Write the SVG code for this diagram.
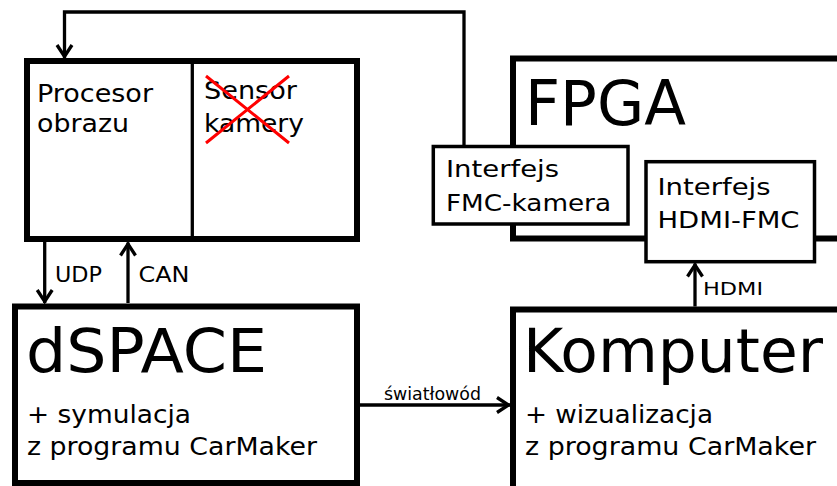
<svg xmlns="http://www.w3.org/2000/svg" width="837" height="486" viewBox="0 0 837 486">
<style>
.box{fill:#fff;stroke:#000;stroke-width:6}
.sub{fill:#fff;stroke:#000;stroke-width:3.5}
.t{font-family:"DejaVu Sans","Liberation Sans",sans-serif;fill:#000}
.c{fill:none;stroke:#000;stroke-width:3.3}
</style>
<defs>
<marker id="arr" viewBox="-16 -10 18 20" refX="0" refY="0" markerWidth="18" markerHeight="20" markerUnits="userSpaceOnUse" orient="auto" overflow="visible">
<path d="M-13,-7.5 L-1.5,0 L-13,7.5" fill="none" stroke="#000" stroke-width="3.3"/>
</marker>
</defs>
<rect width="837" height="486" fill="#fff"/>

<g id="fpga">
<rect class="box" x="513" y="58.5" width="340" height="180"/>
<text class="t" x="525" y="125" font-size="62" textLength="161" lengthAdjust="spacingAndGlyphs">FPGA</text>
</g>

<g id="connectors">
<path class="c" d="M464,146.5 V12 H64.5 V58" marker-end="url(#arr)"/>
<path class="c" d="M44.7,242 V303" marker-end="url(#arr)"/>
<path class="c" d="M128,303 V242.5" marker-end="url(#arr)"/>
<path class="c" d="M695,306.5 V263.5" marker-end="url(#arr)"/>
<path class="c" d="M360,405 H510" marker-end="url(#arr)"/>
<text class="t" x="55" y="281.7" font-size="20.5" textLength="47" lengthAdjust="spacingAndGlyphs">UDP</text>
<text class="t" x="138.5" y="281.7" font-size="20.5" textLength="51" lengthAdjust="spacingAndGlyphs">CAN</text>
<text class="t" x="703" y="295" font-size="18.5" textLength="60" lengthAdjust="spacingAndGlyphs">HDMI</text>
<text class="t" x="384" y="400" font-size="17.5" textLength="97" lengthAdjust="spacingAndGlyphs">światłowód</text>
</g>

<g id="procesor">
<rect class="box" x="27" y="61" width="330" height="178"/>
<line x1="192.3" y1="61" x2="192.3" y2="239" stroke="#000" stroke-width="3.3"/>
<text class="t" x="37" y="101.7" font-size="25" textLength="116" lengthAdjust="spacingAndGlyphs">Procesor</text>
<text class="t" x="37" y="131.7" font-size="25" textLength="92" lengthAdjust="spacingAndGlyphs">obrazu</text>
</g>

<g id="sensor">
<text class="t" x="204" y="99" font-size="25" textLength="93" lengthAdjust="spacingAndGlyphs">Sensor</text>
<text class="t" x="204" y="131.7" font-size="25" textLength="100" lengthAdjust="spacingAndGlyphs">kamery</text>
<path d="M206,76 L289,143 M206,143 L289,76" stroke="#f00" stroke-width="3" fill="none"/>
</g>

<g id="fmc-kamera">
<rect class="sub" x="433.3" y="146.5" width="194.7" height="77.5"/>
<text class="t" x="446" y="177.3" font-size="23" textLength="113" lengthAdjust="spacingAndGlyphs">Interfejs</text>
<text class="t" x="446" y="210.7" font-size="23" textLength="165" lengthAdjust="spacingAndGlyphs">FMC-kamera</text>
</g>

<g id="hdmi-fmc">
<rect class="sub" x="646" y="161.7" width="168.5" height="100"/>
<text class="t" x="657.5" y="195" font-size="23" textLength="113" lengthAdjust="spacingAndGlyphs">Interfejs</text>
<text class="t" x="657.5" y="228.3" font-size="23" textLength="142" lengthAdjust="spacingAndGlyphs">HDMI-FMC</text>
</g>

<g id="dspace">
<rect class="box" x="15" y="306.5" width="342" height="176.5"/>
<text class="t" x="26" y="371.7" font-size="60" textLength="241" lengthAdjust="spacingAndGlyphs">dSPACE</text>
<text class="t" x="27" y="423.3" font-size="25" textLength="164" lengthAdjust="spacingAndGlyphs">+ symulacja</text>
<text class="t" x="27" y="455" font-size="25" textLength="290" lengthAdjust="spacingAndGlyphs">z programu CarMaker</text>
</g>

<g id="komputer">
<rect class="box" x="513" y="309.5" width="340" height="200"/>
<text class="t" x="523" y="371.7" font-size="60" textLength="300" lengthAdjust="spacingAndGlyphs">Komputer</text>
<text class="t" x="525" y="423.3" font-size="25" textLength="188" lengthAdjust="spacingAndGlyphs">+ wizualizacja</text>
<text class="t" x="525" y="455" font-size="25" textLength="291" lengthAdjust="spacingAndGlyphs">z programu CarMaker</text>
</g>
</svg>
